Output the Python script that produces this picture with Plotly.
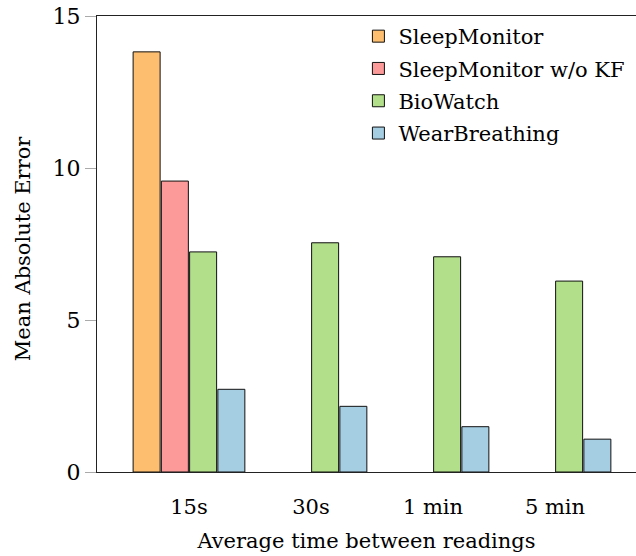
import plotly.graph_objects as go

categories = ["15s", "30s", "1 min", "5 min"]
sleepmonitor = [13.82, None, None, None]
sleepmonitor_nokf = [9.57, None, None, None]
biowatch = [7.24, 7.54, 7.08, 6.28]
wearbreathing = [2.72, 2.16, 1.49, 1.08]

series_names = ["SleepMonitor", "SleepMonitor w/o KF", "BioWatch", "WearBreathing"]
series_values = [sleepmonitor, sleepmonitor_nokf, biowatch, wearbreathing]
colors = ["#fdbf6f", "#fb9a99", "#b2df8a", "#a6cee3"]

FONT = "DejaVu Serif"
FS = 21

fig = go.Figure()
for i, (name, vals, col) in enumerate(zip(series_names, series_values, colors)):
    fig.add_trace(go.Bar(
        x=categories, y=vals, name=name, legendgroup=f"g{i}",
        marker=dict(color=col, line=dict(color="#111111", width=1)),
    ))

fig.update_layout(
    width=636, height=556,
    margin=dict(l=97, r=0, t=16, b=84),
    paper_bgcolor="white", plot_bgcolor="white",
    barmode="group", bargap=0.074, bargroupgap=0.044,
    font=dict(family=FONT, size=FS, color="black"),
    showlegend=True,
    legend=dict(
        x=0.485, y=1.0, xanchor="left", yanchor="top",
        bgcolor="rgba(0,0,0,0)", borderwidth=0,
        font=dict(family=FONT, size=FS),
        tracegroupgap=2, itemwidth=30,
    ),
    annotations=[dict(
        text="Mean Absolute Error", textangle=-90,
        xref="paper", yref="paper", x=-0.138, y=0.49,
        xanchor="center", yanchor="middle", showarrow=False,
        font=dict(family=FONT, size=FS),
    )],
)
fig.update_xaxes(
    type="category", range=[-0.754, 3.664], automargin=False,
    showline=True, linecolor="#222222", linewidth=1, mirror=True,
    ticks="", showgrid=False, zeroline=False, ticklabelstandoff=16,
    tickfont=dict(family=FONT, size=FS),
    title=dict(text="Average time between readings", font=dict(family=FONT, size=FS)),
)
fig.update_yaxes(
    range=[0, 15], tickvals=[0, 5, 10, 15], automargin=False,
    showline=True, linecolor="#222222", linewidth=1, mirror=False,
    ticks="outside", ticklen=11, tickcolor="#aaaaaa", tickwidth=1,
    showgrid=False, zeroline=False, ticklabeloverflow="allow",
    tickfont=dict(family=FONT, size=22),
)

fig.write_html("out.html", config={"displayModeBar": False},
               post_script="document.body.style.margin='0px';")
